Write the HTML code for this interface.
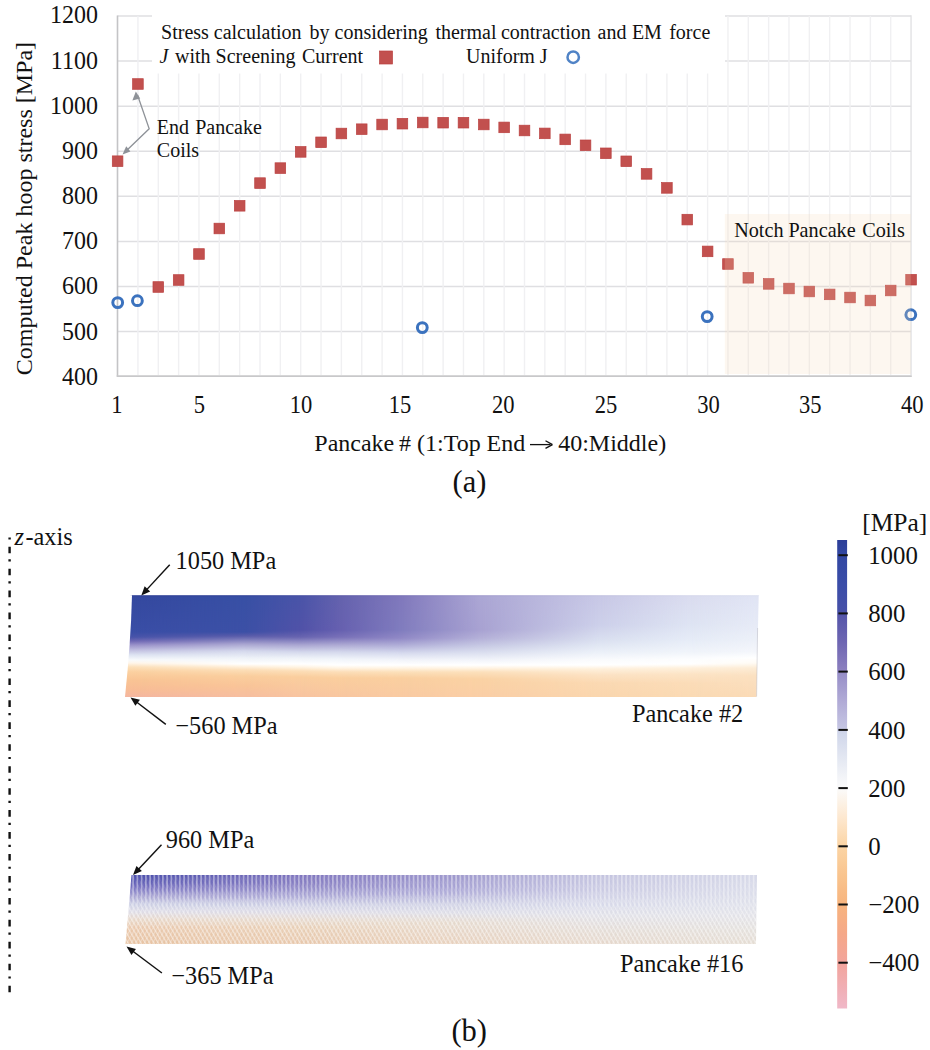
<!DOCTYPE html>
<html><head><meta charset="utf-8"><style>
html,body{margin:0;padding:0;background:#fff;width:930px;height:1050px;overflow:hidden;}
svg{display:block;position:absolute;left:0;top:0;}
</style></head><body>
<svg width="930" height="1050" viewBox="0 0 930 1050">
<defs>
<linearGradient id="s2g0" gradientUnits="userSpaceOnUse" x1="0" y1="595" x2="0" y2="697.5"><stop offset="0.0000" stop-color="#2C3C92"/><stop offset="0.0195" stop-color="#34489F"/><stop offset="0.3610" stop-color="#3A4EA6"/><stop offset="0.4098" stop-color="#4854AA"/><stop offset="0.4488" stop-color="#6E68B4"/><stop offset="0.4878" stop-color="#9A92CA"/><stop offset="0.5366" stop-color="#C0BEE0"/><stop offset="0.5854" stop-color="#DEE4F2"/><stop offset="0.6341" stop-color="#F8FAFC"/><stop offset="0.6634" stop-color="#FFF6EA"/><stop offset="0.7024" stop-color="#FCE0BA"/><stop offset="0.7512" stop-color="#FBD0A0"/><stop offset="0.8293" stop-color="#F9C494"/><stop offset="0.9268" stop-color="#F8BC96"/><stop offset="0.9951" stop-color="#F4B6A0"/></linearGradient>
<linearGradient id="s2g1" gradientUnits="userSpaceOnUse" x1="0" y1="595" x2="0" y2="697.5"><stop offset="0.0000" stop-color="#2E3E94"/><stop offset="0.0195" stop-color="#3850A5"/><stop offset="0.3610" stop-color="#3C50A6"/><stop offset="0.4000" stop-color="#5A5CAA"/><stop offset="0.4780" stop-color="#A8A4D0"/><stop offset="0.5463" stop-color="#D4D8EC"/><stop offset="0.6146" stop-color="#EEF2F8"/><stop offset="0.6732" stop-color="#FFFFFF"/><stop offset="0.6927" stop-color="#FFF4E4"/><stop offset="0.7317" stop-color="#FCDEB8"/><stop offset="0.7902" stop-color="#FACE9E"/><stop offset="0.8878" stop-color="#F9C498"/><stop offset="0.9951" stop-color="#F6BEA0"/></linearGradient>
<linearGradient id="s2m1g" gradientUnits="userSpaceOnUse" x1="132" y1="0" x2="245" y2="0"><stop offset="0" stop-color="#fff" stop-opacity="0"/><stop offset="1" stop-color="#fff" stop-opacity="1"/></linearGradient>
<mask id="s2m1" maskUnits="userSpaceOnUse" x="122.0" y="595" width="639.7" height="102.5"><rect x="122.0" y="595" width="639.7" height="102.5" fill="url(#s2m1g)" /></mask>
<linearGradient id="s2g2" gradientUnits="userSpaceOnUse" x1="0" y1="595" x2="0" y2="697.5"><stop offset="0.0000" stop-color="#424CA0"/><stop offset="0.0195" stop-color="#4A54A8"/><stop offset="0.3415" stop-color="#5052A8"/><stop offset="0.4098" stop-color="#6864B0"/><stop offset="0.4878" stop-color="#AAA6D2"/><stop offset="0.5561" stop-color="#D4D8EC"/><stop offset="0.6146" stop-color="#EEF2F8"/><stop offset="0.6732" stop-color="#FFFFFF"/><stop offset="0.7024" stop-color="#FFF4E4"/><stop offset="0.7415" stop-color="#FCDEB8"/><stop offset="0.8000" stop-color="#FACE9E"/><stop offset="0.9951" stop-color="#F8C4A0"/></linearGradient>
<linearGradient id="s2m2g" gradientUnits="userSpaceOnUse" x1="245" y1="0" x2="300" y2="0"><stop offset="0" stop-color="#fff" stop-opacity="0"/><stop offset="1" stop-color="#fff" stop-opacity="1"/></linearGradient>
<mask id="s2m2" maskUnits="userSpaceOnUse" x="122.0" y="595" width="639.7" height="102.5"><rect x="122.0" y="595" width="639.7" height="102.5" fill="url(#s2m2g)" /></mask>
<linearGradient id="s2g3" gradientUnits="userSpaceOnUse" x1="0" y1="595" x2="0" y2="697.5"><stop offset="0.0000" stop-color="#5A58A6"/><stop offset="0.0195" stop-color="#6462AE"/><stop offset="0.3415" stop-color="#6660B0"/><stop offset="0.4098" stop-color="#7870B8"/><stop offset="0.4878" stop-color="#AEAAD4"/><stop offset="0.5561" stop-color="#D4D8EC"/><stop offset="0.6244" stop-color="#F0F4FA"/><stop offset="0.6829" stop-color="#FFFFFF"/><stop offset="0.7122" stop-color="#FFF4E4"/><stop offset="0.7512" stop-color="#FCDEB8"/><stop offset="0.8098" stop-color="#FACE9E"/><stop offset="0.9951" stop-color="#F8C6A0"/></linearGradient>
<linearGradient id="s2m3g" gradientUnits="userSpaceOnUse" x1="300" y1="0" x2="340" y2="0"><stop offset="0" stop-color="#fff" stop-opacity="0"/><stop offset="1" stop-color="#fff" stop-opacity="1"/></linearGradient>
<mask id="s2m3" maskUnits="userSpaceOnUse" x="122.0" y="595" width="639.7" height="102.5"><rect x="122.0" y="595" width="639.7" height="102.5" fill="url(#s2m3g)" /></mask>
<linearGradient id="s2g4" gradientUnits="userSpaceOnUse" x1="0" y1="595" x2="0" y2="697.5"><stop offset="0.0000" stop-color="#7670B4"/><stop offset="0.0195" stop-color="#8078BC"/><stop offset="0.3415" stop-color="#807CBE"/><stop offset="0.4195" stop-color="#9088C6"/><stop offset="0.4976" stop-color="#B4B2DA"/><stop offset="0.5659" stop-color="#D6DAEE"/><stop offset="0.6341" stop-color="#F2F4FA"/><stop offset="0.6829" stop-color="#FFFFFF"/><stop offset="0.7122" stop-color="#FFF4E4"/><stop offset="0.7512" stop-color="#FCE0BA"/><stop offset="0.8098" stop-color="#FACFA0"/><stop offset="0.9951" stop-color="#F9CAA2"/></linearGradient>
<linearGradient id="s2m4g" gradientUnits="userSpaceOnUse" x1="340" y1="0" x2="400" y2="0"><stop offset="0" stop-color="#fff" stop-opacity="0"/><stop offset="1" stop-color="#fff" stop-opacity="1"/></linearGradient>
<mask id="s2m4" maskUnits="userSpaceOnUse" x="122.0" y="595" width="639.7" height="102.5"><rect x="122.0" y="595" width="639.7" height="102.5" fill="url(#s2m4g)" /></mask>
<linearGradient id="s2g5" gradientUnits="userSpaceOnUse" x1="0" y1="595" x2="0" y2="697.5"><stop offset="0.0000" stop-color="#A09ACC"/><stop offset="0.0195" stop-color="#ABA6D4"/><stop offset="0.3415" stop-color="#A8A2D2"/><stop offset="0.4195" stop-color="#B4B0D8"/><stop offset="0.4976" stop-color="#C8CAE4"/><stop offset="0.5659" stop-color="#DCE0F0"/><stop offset="0.6341" stop-color="#F2F4FA"/><stop offset="0.6829" stop-color="#FFFFFF"/><stop offset="0.7122" stop-color="#FFF4E4"/><stop offset="0.7512" stop-color="#FCE0BC"/><stop offset="0.8195" stop-color="#FAD2A4"/><stop offset="0.9951" stop-color="#FACEA6"/></linearGradient>
<linearGradient id="s2m5g" gradientUnits="userSpaceOnUse" x1="400" y1="0" x2="480" y2="0"><stop offset="0" stop-color="#fff" stop-opacity="0"/><stop offset="1" stop-color="#fff" stop-opacity="1"/></linearGradient>
<mask id="s2m5" maskUnits="userSpaceOnUse" x="122.0" y="595" width="639.7" height="102.5"><rect x="122.0" y="595" width="639.7" height="102.5" fill="url(#s2m5g)" /></mask>
<linearGradient id="s2g6" gradientUnits="userSpaceOnUse" x1="0" y1="595" x2="0" y2="697.5"><stop offset="0.0000" stop-color="#C0C0DE"/><stop offset="0.0195" stop-color="#C8C8E6"/><stop offset="0.2927" stop-color="#CDD0EA"/><stop offset="0.4390" stop-color="#DAE0F0"/><stop offset="0.5561" stop-color="#EBF0F8"/><stop offset="0.6341" stop-color="#FAFBFD"/><stop offset="0.6829" stop-color="#FFFFFF"/><stop offset="0.7220" stop-color="#FEF0DC"/><stop offset="0.7805" stop-color="#FCE2C4"/><stop offset="0.8585" stop-color="#FBD9B2"/><stop offset="0.9951" stop-color="#FAD6AE"/></linearGradient>
<linearGradient id="s2m6g" gradientUnits="userSpaceOnUse" x1="480" y1="0" x2="600" y2="0"><stop offset="0" stop-color="#fff" stop-opacity="0"/><stop offset="1" stop-color="#fff" stop-opacity="1"/></linearGradient>
<mask id="s2m6" maskUnits="userSpaceOnUse" x="122.0" y="595" width="639.7" height="102.5"><rect x="122.0" y="595" width="639.7" height="102.5" fill="url(#s2m6g)" /></mask>
<linearGradient id="s2g7" gradientUnits="userSpaceOnUse" x1="0" y1="595" x2="0" y2="697.5"><stop offset="0.0000" stop-color="#D4D6EA"/><stop offset="0.0195" stop-color="#DADCEF"/><stop offset="0.2927" stop-color="#DEE4F3"/><stop offset="0.4390" stop-color="#E6ECF7"/><stop offset="0.5561" stop-color="#F0F4FA"/><stop offset="0.6244" stop-color="#FCFDFE"/><stop offset="0.6732" stop-color="#FFFFFF"/><stop offset="0.7122" stop-color="#FEF0DC"/><stop offset="0.7707" stop-color="#FCE4C6"/><stop offset="0.8585" stop-color="#FBDCB8"/><stop offset="0.9951" stop-color="#FADAB4"/></linearGradient>
<linearGradient id="s2m7g" gradientUnits="userSpaceOnUse" x1="600" y1="0" x2="690" y2="0"><stop offset="0" stop-color="#fff" stop-opacity="0"/><stop offset="1" stop-color="#fff" stop-opacity="1"/></linearGradient>
<mask id="s2m7" maskUnits="userSpaceOnUse" x="122.0" y="595" width="639.7" height="102.5"><rect x="122.0" y="595" width="639.7" height="102.5" fill="url(#s2m7g)" /></mask>
<linearGradient id="s2g8" gradientUnits="userSpaceOnUse" x1="0" y1="595" x2="0" y2="697.5"><stop offset="0.0000" stop-color="#DADEEE"/><stop offset="0.0195" stop-color="#E0E4F4"/><stop offset="0.2927" stop-color="#E6EAF6"/><stop offset="0.4390" stop-color="#ECF0F8"/><stop offset="0.5561" stop-color="#F4F6FB"/><stop offset="0.6146" stop-color="#FFFFFF"/><stop offset="0.6634" stop-color="#FFFBF4"/><stop offset="0.7122" stop-color="#FCEBD4"/><stop offset="0.7902" stop-color="#FBE0C0"/><stop offset="0.9951" stop-color="#FADAB6"/></linearGradient>
<linearGradient id="s2m8g" gradientUnits="userSpaceOnUse" x1="690" y1="0" x2="756" y2="0"><stop offset="0" stop-color="#fff" stop-opacity="0"/><stop offset="1" stop-color="#fff" stop-opacity="1"/></linearGradient>
<mask id="s2m8" maskUnits="userSpaceOnUse" x="122.0" y="595" width="639.7" height="102.5"><rect x="122.0" y="595" width="639.7" height="102.5" fill="url(#s2m8g)" /></mask>
<linearGradient id="s16g0" gradientUnits="userSpaceOnUse" x1="0" y1="875" x2="0" y2="944.5"><stop offset="0.0000" stop-color="#4A4EAC"/><stop offset="0.0719" stop-color="#5858B2"/><stop offset="0.1871" stop-color="#7A74C2"/><stop offset="0.3022" stop-color="#A6A2D2"/><stop offset="0.4173" stop-color="#CACEE4"/><stop offset="0.5324" stop-color="#DEDCE6"/><stop offset="0.6475" stop-color="#E8D6C6"/><stop offset="0.7626" stop-color="#EAC8AC"/><stop offset="0.9928" stop-color="#E8C4A4"/></linearGradient>
<linearGradient id="s16g1" gradientUnits="userSpaceOnUse" x1="0" y1="875" x2="0" y2="944.5"><stop offset="0.0000" stop-color="#7E74BE"/><stop offset="0.1439" stop-color="#8A82C4"/><stop offset="0.2878" stop-color="#A8A4D4"/><stop offset="0.4317" stop-color="#CCCEE4"/><stop offset="0.5324" stop-color="#DCDAE6"/><stop offset="0.6475" stop-color="#E6D8CC"/><stop offset="0.7626" stop-color="#E8CEB4"/><stop offset="0.9928" stop-color="#E8C8AC"/></linearGradient>
<linearGradient id="s16m1g" gradientUnits="userSpaceOnUse" x1="135" y1="0" x2="300" y2="0"><stop offset="0" stop-color="#fff" stop-opacity="0"/><stop offset="1" stop-color="#fff" stop-opacity="1"/></linearGradient>
<mask id="s16m1" maskUnits="userSpaceOnUse" x="122.5" y="875" width="637.5" height="69.5"><rect x="122.5" y="875" width="637.5" height="69.5" fill="url(#s16m1g)" /></mask>
<linearGradient id="s16g2" gradientUnits="userSpaceOnUse" x1="0" y1="875" x2="0" y2="944.5"><stop offset="0.0000" stop-color="#9C96CC"/><stop offset="0.2158" stop-color="#AAA6D6"/><stop offset="0.4317" stop-color="#CED0E4"/><stop offset="0.5468" stop-color="#DCDCE6"/><stop offset="0.6763" stop-color="#E6DACE"/><stop offset="0.9928" stop-color="#E8D0BC"/></linearGradient>
<linearGradient id="s16m2g" gradientUnits="userSpaceOnUse" x1="300" y1="0" x2="450" y2="0"><stop offset="0" stop-color="#fff" stop-opacity="0"/><stop offset="1" stop-color="#fff" stop-opacity="1"/></linearGradient>
<mask id="s16m2" maskUnits="userSpaceOnUse" x="122.5" y="875" width="637.5" height="69.5"><rect x="122.5" y="875" width="637.5" height="69.5" fill="url(#s16m2g)" /></mask>
<linearGradient id="s16g3" gradientUnits="userSpaceOnUse" x1="0" y1="875" x2="0" y2="944.5"><stop offset="0.0000" stop-color="#C4C4E0"/><stop offset="0.2158" stop-color="#CCCCE4"/><stop offset="0.4317" stop-color="#D8DAEA"/><stop offset="0.5755" stop-color="#E0E0E8"/><stop offset="0.7914" stop-color="#E4DCD6"/><stop offset="0.9928" stop-color="#E6D8CC"/></linearGradient>
<linearGradient id="s16m3g" gradientUnits="userSpaceOnUse" x1="450" y1="0" x2="600" y2="0"><stop offset="0" stop-color="#fff" stop-opacity="0"/><stop offset="1" stop-color="#fff" stop-opacity="1"/></linearGradient>
<mask id="s16m3" maskUnits="userSpaceOnUse" x="122.5" y="875" width="637.5" height="69.5"><rect x="122.5" y="875" width="637.5" height="69.5" fill="url(#s16m3g)" /></mask>
<linearGradient id="s16g4" gradientUnits="userSpaceOnUse" x1="0" y1="875" x2="0" y2="944.5"><stop offset="0.0000" stop-color="#D6D8E8"/><stop offset="0.2158" stop-color="#DADCEA"/><stop offset="0.4317" stop-color="#DEE0EA"/><stop offset="0.5755" stop-color="#E2E2E8"/><stop offset="0.7914" stop-color="#E4E0DC"/><stop offset="0.9928" stop-color="#E4DCD2"/></linearGradient>
<linearGradient id="s16m4g" gradientUnits="userSpaceOnUse" x1="600" y1="0" x2="755" y2="0"><stop offset="0" stop-color="#fff" stop-opacity="0"/><stop offset="1" stop-color="#fff" stop-opacity="1"/></linearGradient>
<mask id="s16m4" maskUnits="userSpaceOnUse" x="122.5" y="875" width="637.5" height="69.5"><rect x="122.5" y="875" width="637.5" height="69.5" fill="url(#s16m4g)" /></mask>
<pattern id="vstr" patternUnits="userSpaceOnUse" x="0.5" y="0" width="4.25" height="10"><rect x="0" y="0" width="1.7" height="10" fill="#fff" fill-opacity="0.42"/></pattern>
<pattern id="dstr" patternUnits="userSpaceOnUse" x="0" y="0" width="4.3" height="7.4" patternTransform="skewX(30)"><rect x="0" y="0" width="1.5" height="7.4" fill="#fff" fill-opacity="0.45"/></pattern>
<pattern id="dstr2" patternUnits="userSpaceOnUse" x="0" y="0" width="4.3" height="7.4" patternTransform="skewX(-30)"><rect x="0" y="0" width="1.2" height="7.4" fill="#fff" fill-opacity="0.3"/></pattern>
<linearGradient id="vfade" gradientUnits="userSpaceOnUse" x1="0" y1="875" x2="0" y2="944"><stop offset="0" stop-color="#fff"/><stop offset="0.35" stop-color="#fff" stop-opacity="0.8"/><stop offset="0.6" stop-color="#fff" stop-opacity="0.2"/><stop offset="1" stop-color="#fff" stop-opacity="0.1"/></linearGradient>
<linearGradient id="dfade" gradientUnits="userSpaceOnUse" x1="0" y1="875" x2="0" y2="944"><stop offset="0" stop-color="#fff" stop-opacity="0.1"/><stop offset="0.3" stop-color="#fff" stop-opacity="0.3"/><stop offset="0.6" stop-color="#fff" stop-opacity="1"/><stop offset="1" stop-color="#fff" stop-opacity="1"/></linearGradient>
<mask id="vmask" maskUnits="userSpaceOnUse" x="120" y="870" width="645" height="80"><rect x="120" y="870" width="645" height="80" fill="url(#vfade)"/></mask>
<mask id="dmask" maskUnits="userSpaceOnUse" x="120" y="870" width="645" height="80"><rect x="120" y="870" width="645" height="80" fill="url(#dfade)"/></mask>
<linearGradient id="cbg" x1="0" y1="0" x2="0" y2="1"><stop offset="0.0014" stop-color="#2C3E98"/><stop offset="0.0324" stop-color="#3247A2"/><stop offset="0.0946" stop-color="#3A4DA8"/><stop offset="0.1505" stop-color="#4650A8"/><stop offset="0.1629" stop-color="#5656AA"/><stop offset="0.2188" stop-color="#6E66B2"/><stop offset="0.2748" stop-color="#8A7EBE"/><stop offset="0.2872" stop-color="#9890C8"/><stop offset="0.3431" stop-color="#B0AAD6"/><stop offset="0.3990" stop-color="#C4C4E2"/><stop offset="0.4115" stop-color="#D0D6EA"/><stop offset="0.4674" stop-color="#E4E8F2"/><stop offset="0.5295" stop-color="#FBFBFB"/><stop offset="0.5917" stop-color="#FDE8D0"/><stop offset="0.6538" stop-color="#FBD4A4"/><stop offset="0.7159" stop-color="#F9C48E"/><stop offset="0.7781" stop-color="#F7B47E"/><stop offset="0.8402" stop-color="#F5A888"/><stop offset="0.9023" stop-color="#F2A49C"/><stop offset="0.9645" stop-color="#F0B0B8"/><stop offset="1.0017" stop-color="#F0B8C8"/></linearGradient>
</defs>
<line x1="117.5" y1="16.0" x2="911.1" y2="16.0" stroke="#DFDFE2" stroke-width="1.45"/>
<line x1="117.5" y1="61.08" x2="911.1" y2="61.08" stroke="#DFDFE2" stroke-width="1.45"/>
<line x1="117.5" y1="106.16" x2="911.1" y2="106.16" stroke="#DFDFE2" stroke-width="1.45"/>
<line x1="117.5" y1="151.24" x2="911.1" y2="151.24" stroke="#DFDFE2" stroke-width="1.45"/>
<line x1="117.5" y1="196.32" x2="911.1" y2="196.32" stroke="#DFDFE2" stroke-width="1.45"/>
<line x1="117.5" y1="241.39999999999998" x2="911.1" y2="241.39999999999998" stroke="#DFDFE2" stroke-width="1.45"/>
<line x1="117.5" y1="286.48" x2="911.1" y2="286.48" stroke="#DFDFE2" stroke-width="1.45"/>
<line x1="117.5" y1="331.56" x2="911.1" y2="331.56" stroke="#DFDFE2" stroke-width="1.45"/>
<line x1="137.94" y1="16" x2="137.94" y2="375" stroke="#F0F0F2" stroke-width="1.4"/>
<line x1="158.29" y1="16" x2="158.29" y2="375" stroke="#F0F0F2" stroke-width="1.4"/>
<line x1="178.63" y1="16" x2="178.63" y2="375" stroke="#F0F0F2" stroke-width="1.4"/>
<line x1="198.98" y1="16" x2="198.98" y2="375" stroke="#F0F0F2" stroke-width="1.4"/>
<line x1="219.32" y1="16" x2="219.32" y2="375" stroke="#F0F0F2" stroke-width="1.4"/>
<line x1="239.67" y1="16" x2="239.67" y2="375" stroke="#F0F0F2" stroke-width="1.4"/>
<line x1="260.01" y1="16" x2="260.01" y2="375" stroke="#F0F0F2" stroke-width="1.4"/>
<line x1="280.36" y1="16" x2="280.36" y2="375" stroke="#F0F0F2" stroke-width="1.4"/>
<line x1="300.70" y1="16" x2="300.70" y2="375" stroke="#F0F0F2" stroke-width="1.4"/>
<line x1="321.05" y1="16" x2="321.05" y2="375" stroke="#F0F0F2" stroke-width="1.4"/>
<line x1="341.39" y1="16" x2="341.39" y2="375" stroke="#F0F0F2" stroke-width="1.4"/>
<line x1="361.74" y1="16" x2="361.74" y2="375" stroke="#F0F0F2" stroke-width="1.4"/>
<line x1="382.09" y1="16" x2="382.09" y2="375" stroke="#F0F0F2" stroke-width="1.4"/>
<line x1="402.43" y1="16" x2="402.43" y2="375" stroke="#F0F0F2" stroke-width="1.4"/>
<line x1="422.77" y1="16" x2="422.77" y2="375" stroke="#F0F0F2" stroke-width="1.4"/>
<line x1="443.12" y1="16" x2="443.12" y2="375" stroke="#F0F0F2" stroke-width="1.4"/>
<line x1="463.47" y1="16" x2="463.47" y2="375" stroke="#F0F0F2" stroke-width="1.4"/>
<line x1="483.81" y1="16" x2="483.81" y2="375" stroke="#F0F0F2" stroke-width="1.4"/>
<line x1="504.15" y1="16" x2="504.15" y2="375" stroke="#F0F0F2" stroke-width="1.4"/>
<line x1="524.50" y1="16" x2="524.50" y2="375" stroke="#F0F0F2" stroke-width="1.4"/>
<line x1="544.85" y1="16" x2="544.85" y2="375" stroke="#F0F0F2" stroke-width="1.4"/>
<line x1="565.19" y1="16" x2="565.19" y2="375" stroke="#F0F0F2" stroke-width="1.4"/>
<line x1="585.53" y1="16" x2="585.53" y2="375" stroke="#F0F0F2" stroke-width="1.4"/>
<line x1="605.88" y1="16" x2="605.88" y2="375" stroke="#F0F0F2" stroke-width="1.4"/>
<line x1="626.23" y1="16" x2="626.23" y2="375" stroke="#F0F0F2" stroke-width="1.4"/>
<line x1="646.57" y1="16" x2="646.57" y2="375" stroke="#F0F0F2" stroke-width="1.4"/>
<line x1="666.91" y1="16" x2="666.91" y2="375" stroke="#F0F0F2" stroke-width="1.4"/>
<line x1="687.26" y1="16" x2="687.26" y2="375" stroke="#F0F0F2" stroke-width="1.4"/>
<line x1="707.61" y1="16" x2="707.61" y2="375" stroke="#F0F0F2" stroke-width="1.4"/>
<line x1="727.95" y1="16" x2="727.95" y2="375" stroke="#F0F0F2" stroke-width="1.4"/>
<line x1="748.29" y1="16" x2="748.29" y2="375" stroke="#F0F0F2" stroke-width="1.4"/>
<line x1="768.64" y1="16" x2="768.64" y2="375" stroke="#F0F0F2" stroke-width="1.4"/>
<line x1="788.99" y1="16" x2="788.99" y2="375" stroke="#F0F0F2" stroke-width="1.4"/>
<line x1="809.33" y1="16" x2="809.33" y2="375" stroke="#F0F0F2" stroke-width="1.4"/>
<line x1="829.67" y1="16" x2="829.67" y2="375" stroke="#F0F0F2" stroke-width="1.4"/>
<line x1="850.02" y1="16" x2="850.02" y2="375" stroke="#F0F0F2" stroke-width="1.4"/>
<line x1="870.37" y1="16" x2="870.37" y2="375" stroke="#F0F0F2" stroke-width="1.4"/>
<line x1="890.71" y1="16" x2="890.71" y2="375" stroke="#F0F0F2" stroke-width="1.4"/>
<line x1="911.05" y1="15.2" x2="911.05" y2="375" stroke="#E0E0E2" stroke-width="1.3"/>
<line x1="117.5" y1="15.5" x2="117.5" y2="376.5" stroke="#C4C4C6" stroke-width="1.6"/>
<line x1="116.7" y1="376.2" x2="911.8" y2="376.2" stroke="#C8C8CA" stroke-width="1.8"/>
<rect x="112.30" y="155.90" width="10.6" height="10.6" fill="#C2504E" stroke="#BA4040" stroke-width="0.7"/>
<rect x="132.64" y="78.70" width="10.6" height="10.6" fill="#C2504E" stroke="#BA4040" stroke-width="0.7"/>
<rect x="152.99" y="281.70" width="10.6" height="10.6" fill="#C2504E" stroke="#BA4040" stroke-width="0.7"/>
<rect x="173.33" y="274.70" width="10.6" height="10.6" fill="#C2504E" stroke="#BA4040" stroke-width="0.7"/>
<rect x="193.68" y="248.70" width="10.6" height="10.6" fill="#C2504E" stroke="#BA4040" stroke-width="0.7"/>
<rect x="214.02" y="223.20" width="10.6" height="10.6" fill="#C2504E" stroke="#BA4040" stroke-width="0.7"/>
<rect x="234.37" y="200.50" width="10.6" height="10.6" fill="#C2504E" stroke="#BA4040" stroke-width="0.7"/>
<rect x="254.71" y="177.80" width="10.6" height="10.6" fill="#C2504E" stroke="#BA4040" stroke-width="0.7"/>
<rect x="275.06" y="162.80" width="10.6" height="10.6" fill="#C2504E" stroke="#BA4040" stroke-width="0.7"/>
<rect x="295.40" y="146.60" width="10.6" height="10.6" fill="#C2504E" stroke="#BA4040" stroke-width="0.7"/>
<rect x="315.75" y="137.00" width="10.6" height="10.6" fill="#C2504E" stroke="#BA4040" stroke-width="0.7"/>
<rect x="336.09" y="128.20" width="10.6" height="10.6" fill="#C2504E" stroke="#BA4040" stroke-width="0.7"/>
<rect x="356.44" y="123.90" width="10.6" height="10.6" fill="#C2504E" stroke="#BA4040" stroke-width="0.7"/>
<rect x="376.79" y="119.20" width="10.6" height="10.6" fill="#C2504E" stroke="#BA4040" stroke-width="0.7"/>
<rect x="397.13" y="118.40" width="10.6" height="10.6" fill="#C2504E" stroke="#BA4040" stroke-width="0.7"/>
<rect x="417.47" y="117.20" width="10.6" height="10.6" fill="#C2504E" stroke="#BA4040" stroke-width="0.7"/>
<rect x="437.82" y="117.40" width="10.6" height="10.6" fill="#C2504E" stroke="#BA4040" stroke-width="0.7"/>
<rect x="458.17" y="117.40" width="10.6" height="10.6" fill="#C2504E" stroke="#BA4040" stroke-width="0.7"/>
<rect x="478.51" y="119.20" width="10.6" height="10.6" fill="#C2504E" stroke="#BA4040" stroke-width="0.7"/>
<rect x="498.85" y="122.10" width="10.6" height="10.6" fill="#C2504E" stroke="#BA4040" stroke-width="0.7"/>
<rect x="519.20" y="125.20" width="10.6" height="10.6" fill="#C2504E" stroke="#BA4040" stroke-width="0.7"/>
<rect x="539.55" y="128.10" width="10.6" height="10.6" fill="#C2504E" stroke="#BA4040" stroke-width="0.7"/>
<rect x="559.89" y="134.10" width="10.6" height="10.6" fill="#C2504E" stroke="#BA4040" stroke-width="0.7"/>
<rect x="580.24" y="140.00" width="10.6" height="10.6" fill="#C2504E" stroke="#BA4040" stroke-width="0.7"/>
<rect x="600.58" y="148.00" width="10.6" height="10.6" fill="#C2504E" stroke="#BA4040" stroke-width="0.7"/>
<rect x="620.93" y="156.00" width="10.6" height="10.6" fill="#C2504E" stroke="#BA4040" stroke-width="0.7"/>
<rect x="641.27" y="168.60" width="10.6" height="10.6" fill="#C2504E" stroke="#BA4040" stroke-width="0.7"/>
<rect x="661.62" y="182.60" width="10.6" height="10.6" fill="#C2504E" stroke="#BA4040" stroke-width="0.7"/>
<rect x="681.96" y="214.30" width="10.6" height="10.6" fill="#C2504E" stroke="#BA4040" stroke-width="0.7"/>
<rect x="702.31" y="246.10" width="10.6" height="10.6" fill="#C2504E" stroke="#BA4040" stroke-width="0.7"/>
<rect x="722.65" y="258.70" width="10.6" height="10.6" fill="#C2504E" stroke="#BA4040" stroke-width="0.7"/>
<rect x="743.00" y="272.50" width="10.6" height="10.6" fill="#C2504E" stroke="#BA4040" stroke-width="0.7"/>
<rect x="763.34" y="278.60" width="10.6" height="10.6" fill="#C2504E" stroke="#BA4040" stroke-width="0.7"/>
<rect x="783.69" y="283.20" width="10.6" height="10.6" fill="#C2504E" stroke="#BA4040" stroke-width="0.7"/>
<rect x="804.03" y="286.20" width="10.6" height="10.6" fill="#C2504E" stroke="#BA4040" stroke-width="0.7"/>
<rect x="824.38" y="289.10" width="10.6" height="10.6" fill="#C2504E" stroke="#BA4040" stroke-width="0.7"/>
<rect x="844.72" y="292.20" width="10.6" height="10.6" fill="#C2504E" stroke="#BA4040" stroke-width="0.7"/>
<rect x="865.07" y="295.20" width="10.6" height="10.6" fill="#C2504E" stroke="#BA4040" stroke-width="0.7"/>
<rect x="885.41" y="285.20" width="10.6" height="10.6" fill="#C2504E" stroke="#BA4040" stroke-width="0.7"/>
<rect x="905.75" y="274.40" width="10.6" height="10.6" fill="#C2504E" stroke="#BA4040" stroke-width="0.7"/>
<circle cx="117.7" cy="302.6" r="4.9" fill="none" stroke="#3B72BE" stroke-width="3"/>
<circle cx="137.4" cy="300.7" r="4.9" fill="none" stroke="#3B72BE" stroke-width="3"/>
<circle cx="422.3" cy="327.6" r="4.9" fill="none" stroke="#3B72BE" stroke-width="3"/>
<circle cx="707.2" cy="316.6" r="4.9" fill="none" stroke="#3B72BE" stroke-width="3"/>
<circle cx="910.8" cy="314.7" r="4.9" fill="none" stroke="#3B72BE" stroke-width="3"/>
<rect x="724.8" y="214" width="186" height="160" fill="rgb(245,215,182)" fill-opacity="0.21"/>
<text x="734.2" y="237" font-family="Liberation Serif, serif" fill="#111" font-size="20.2" >Notch</text>
<text x="788.4" y="237" font-family="Liberation Serif, serif" fill="#111" font-size="20.2" >Pancake</text>
<text x="862.2" y="237" font-family="Liberation Serif, serif" fill="#111" font-size="20.2" >Coils</text>
<rect x="152" y="0" width="573" height="73.5" fill="#FFFFFF"/>
<text x="161.1" y="39.2" font-family="Liberation Serif, serif" fill="#111" font-size="20" >Stress</text>
<text x="213.8" y="39.2" font-family="Liberation Serif, serif" fill="#111" font-size="20" >calculation</text>
<text x="309.5" y="39.2" font-family="Liberation Serif, serif" fill="#111" font-size="20" >by</text>
<text x="334.5" y="39.2" font-family="Liberation Serif, serif" fill="#111" font-size="20" >considering</text>
<text x="435.4" y="39.2" font-family="Liberation Serif, serif" fill="#111" font-size="20" >thermal</text>
<text x="500.9" y="39.2" font-family="Liberation Serif, serif" fill="#111" font-size="20" >contraction</text>
<text x="597.5" y="39.2" font-family="Liberation Serif, serif" fill="#111" font-size="20" >and</text>
<text x="631.9" y="39.2" font-family="Liberation Serif, serif" fill="#111" font-size="20" >EM</text>
<text x="669.2" y="39.2" font-family="Liberation Serif, serif" fill="#111" font-size="20" >force</text>
<text x="159.5" y="63.1" font-family="Liberation Serif, serif" fill="#111" font-size="20" font-style="italic">J</text>
<text x="175.0" y="63.1" font-family="Liberation Serif, serif" fill="#111" font-size="20" >with</text>
<text x="215.6" y="63.1" font-family="Liberation Serif, serif" fill="#111" font-size="20" >Screening</text>
<text x="302.0" y="63.1" font-family="Liberation Serif, serif" fill="#111" font-size="20" >Current</text>
<text x="466.0" y="63.1" font-family="Liberation Serif, serif" fill="#111" font-size="20" >Uniform</text>
<text x="539.7" y="63.1" font-family="Liberation Serif, serif" fill="#111" font-size="20" >J</text>
<rect x="379.5" y="51" width="13" height="13" fill="#C2504E" stroke="#BA4040" stroke-width="0.7"/>
<circle cx="573.2" cy="57.2" r="5.7" fill="none" stroke="#5083C6" stroke-width="2.5"/>
<path d="M137.5 95 L149.2 128.7 L124.5 152.5" fill="none" stroke="#8E9298" stroke-width="1.3"/>
<path d="M135.8 91.5 L132.4 100.5 L140.2 98.6 Z" fill="#8E9298"/>
<path d="M122.5 154.6 L126.2 146.3 L130.4 151.6 Z" fill="#8E9298"/>
<text x="156.8" y="133.6" font-family="Liberation Serif, serif" fill="#111" font-size="20" >End</text>
<text x="195.2" y="133.6" font-family="Liberation Serif, serif" fill="#111" font-size="20" >Pancake</text>
<text x="156.8" y="156.6" font-family="Liberation Serif, serif" fill="#111" font-size="20" >Coils</text>
<text transform="translate(97.9,23.4) scale(1,1.08)" font-family="Liberation Serif, serif" fill="#111" font-size="24" text-anchor="end">1200</text>
<text transform="translate(97.9,68.6) scale(1,1.08)" font-family="Liberation Serif, serif" fill="#111" font-size="24" text-anchor="end">1100</text>
<text transform="translate(97.9,113.7) scale(1,1.08)" font-family="Liberation Serif, serif" fill="#111" font-size="24" text-anchor="end">1000</text>
<text transform="translate(97.9,158.9) scale(1,1.08)" font-family="Liberation Serif, serif" fill="#111" font-size="24" text-anchor="end">900</text>
<text transform="translate(97.9,204.0) scale(1,1.08)" font-family="Liberation Serif, serif" fill="#111" font-size="24" text-anchor="end">800</text>
<text transform="translate(97.9,249.2) scale(1,1.08)" font-family="Liberation Serif, serif" fill="#111" font-size="24" text-anchor="end">700</text>
<text transform="translate(97.9,294.4) scale(1,1.08)" font-family="Liberation Serif, serif" fill="#111" font-size="24" text-anchor="end">600</text>
<text transform="translate(97.9,339.5) scale(1,1.08)" font-family="Liberation Serif, serif" fill="#111" font-size="24" text-anchor="end">500</text>
<text transform="translate(97.9,384.7) scale(1,1.08)" font-family="Liberation Serif, serif" fill="#111" font-size="24" text-anchor="end">400</text>
<text transform="translate(116.8,413.0) scale(0.94,1.08)" font-family="Liberation Serif, serif" fill="#111" font-size="24" text-anchor="middle">1</text>
<text transform="translate(199.3,413.0) scale(0.94,1.08)" font-family="Liberation Serif, serif" fill="#111" font-size="24" text-anchor="middle">5</text>
<text transform="translate(301.1,413.0) scale(0.94,1.08)" font-family="Liberation Serif, serif" fill="#111" font-size="24" text-anchor="middle">10</text>
<text transform="translate(399.9,413.0) scale(0.94,1.08)" font-family="Liberation Serif, serif" fill="#111" font-size="24" text-anchor="middle">15</text>
<text transform="translate(503.2,413.0) scale(0.94,1.08)" font-family="Liberation Serif, serif" fill="#111" font-size="24" text-anchor="middle">20</text>
<text transform="translate(605.9,413.0) scale(0.94,1.08)" font-family="Liberation Serif, serif" fill="#111" font-size="24" text-anchor="middle">25</text>
<text transform="translate(708.4,413.0) scale(0.94,1.08)" font-family="Liberation Serif, serif" fill="#111" font-size="24" text-anchor="middle">30</text>
<text transform="translate(810.3,413.0) scale(0.94,1.08)" font-family="Liberation Serif, serif" fill="#111" font-size="24" text-anchor="middle">35</text>
<text transform="translate(912.3,413.0) scale(0.94,1.08)" font-family="Liberation Serif, serif" fill="#111" font-size="24" text-anchor="middle">40</text>
<text transform="translate(31.5,208.6) rotate(-90)" font-family="Liberation Serif, serif" fill="#111" font-size="24" text-anchor="middle">Computed Peak hoop stress [MPa]</text>
<text x="314.3" y="450.5" font-family="Liberation Serif, serif" fill="#111" font-size="24" >Pancake</text>
<text x="399" y="450.5" font-family="Liberation Serif, serif" fill="#111" font-size="24" >#</text>
<text x="417" y="450.5" font-family="Liberation Serif, serif" fill="#111" font-size="24" >(1:Top</text>
<text x="486.5" y="450.5" font-family="Liberation Serif, serif" fill="#111" font-size="24" >End</text>
<text x="558.2" y="450.5" font-family="Liberation Serif, serif" fill="#111" font-size="24" >40:Middle)</text>
<path d="M530 444.6 H550.5" stroke="#111" stroke-width="1.3"/>
<path d="M552.5 444.6 L545.5 440.8 M552.5 444.6 L545.5 448.4" stroke="#111" stroke-width="1.3" fill="none"/>
<text x="469.5" y="491.5" font-family="Liberation Serif, serif" fill="#111" font-size="30.5" text-anchor="middle">(a)</text>
<line x1="9.6" y1="537.4" x2="9.6" y2="993.6" stroke="#111" stroke-width="2.4" stroke-dasharray="2.2 7.1 6.6 6.05"/>
<text x="14.6" y="544.6" font-family="Liberation Serif, serif" fill="#111" font-size="24.3" font-style="italic">z</text>
<text x="25.4" y="544.6" font-family="Liberation Serif, serif" fill="#111" font-size="24.3" >-axis</text>
<rect x="122.0" y="595" width="639.7" height="102.5" fill="url(#s2g0)"/>
<rect x="132" y="595" width="629.7" height="102.5" fill="url(#s2g1)" mask="url(#s2m1)"/>
<rect x="245" y="595" width="516.7" height="102.5" fill="url(#s2g2)" mask="url(#s2m2)"/>
<rect x="300" y="595" width="461.70000000000005" height="102.5" fill="url(#s2g3)" mask="url(#s2m3)"/>
<rect x="340" y="595" width="421.70000000000005" height="102.5" fill="url(#s2g4)" mask="url(#s2m4)"/>
<rect x="400" y="595" width="361.70000000000005" height="102.5" fill="url(#s2g5)" mask="url(#s2m5)"/>
<rect x="480" y="595" width="281.70000000000005" height="102.5" fill="url(#s2g6)" mask="url(#s2m6)"/>
<rect x="600" y="595" width="161.70000000000005" height="102.5" fill="url(#s2g7)" mask="url(#s2m7)"/>
<rect x="690" y="595" width="71.70000000000005" height="102.5" fill="url(#s2g8)" mask="url(#s2m8)"/>
<polygon points="121.0,698.5 125.0,697.0 127.6,670.0 129.6,645.0 131.1,620.0 132.0,595.2 121.0,594" fill="#fff"/>
<polygon points="758.7,595.2 762.7,594 762.7,698.5 756.5,697.0" fill="#fff"/>
<rect x="121.0" y="593" width="641.7" height="2.2000000000000455" fill="#fff"/>
<rect x="121.0" y="697.0" width="641.7" height="2.5" fill="#fff"/>
<line x1="757.6" y1="628" x2="756.6" y2="696.5" stroke="#B8B8C0" stroke-width="0.8" stroke-opacity="0.6"/>
<rect x="122.5" y="875" width="637.5" height="69.5" fill="url(#s16g0)"/>
<rect x="135" y="875" width="625.0" height="69.5" fill="url(#s16g1)" mask="url(#s16m1)"/>
<rect x="300" y="875" width="460.0" height="69.5" fill="url(#s16g2)" mask="url(#s16m2)"/>
<rect x="450" y="875" width="310.0" height="69.5" fill="url(#s16g3)" mask="url(#s16m3)"/>
<rect x="600" y="875" width="160.0" height="69.5" fill="url(#s16g4)" mask="url(#s16m4)"/>
<g><rect x="120" y="875" width="645" height="69.5" fill="url(#vstr)" mask="url(#vmask)"/><rect x="120" y="875" width="645" height="69.5" fill="url(#dstr)" mask="url(#dmask)"/><rect x="120" y="875" width="645" height="69.5" fill="url(#dstr2)" mask="url(#dmask)"/></g>
<polygon points="121.5,945.5 125.5,944.0 131.5,875.0 121.5,874" fill="#fff"/>
<polygon points="757.0,875.0 761.0,874 761.0,945.5 756.0,944.0" fill="#fff"/>
<rect x="121.5" y="873" width="639.5" height="2.0" fill="#fff"/>
<rect x="121.5" y="944.0" width="639.5" height="2.5" fill="#fff"/>
<line x1="169.7" y1="564.7" x2="146.72" y2="589.62" stroke="#111" stroke-width="1.45"/>
<polygon points="141.3,595.5 144.64,586.34 150.16,591.43" fill="#111"/>
<line x1="165.8" y1="724.3" x2="136.86" y2="702.25" stroke="#111" stroke-width="1.45"/>
<polygon points="130.5,697.4 139.93,699.87 135.39,705.84" fill="#111"/>
<line x1="161.5" y1="844.8" x2="138.49" y2="869.18" stroke="#111" stroke-width="1.45"/>
<polygon points="133,875 136.45,865.88 141.90,871.03" fill="#111"/>
<line x1="161.9" y1="973" x2="132.90" y2="951.29" stroke="#111" stroke-width="1.45"/>
<polygon points="126.5,946.5 135.95,948.89 131.46,954.90" fill="#111"/>
<text x="175.6" y="569.4" font-family="Liberation Serif, serif" fill="#111" font-size="24.3" >1050 MPa</text>
<text x="175.4" y="734.4" font-family="Liberation Serif, serif" fill="#111" font-size="24.3" >&#8722;560 MPa</text>
<text x="165.8" y="848.4" font-family="Liberation Serif, serif" fill="#111" font-size="24.3" >960 MPa</text>
<text x="171.4" y="983.6" font-family="Liberation Serif, serif" fill="#111" font-size="24.3" >&#8722;365 MPa</text>
<text x="631.9" y="722.3" font-family="Liberation Serif, serif" fill="#111" font-size="24.3" >Pancake #2</text>
<text x="619.9" y="972.1" font-family="Liberation Serif, serif" fill="#111" font-size="24.3" >Pancake #16</text>
<text x="469.2" y="1041" font-family="Liberation Serif, serif" fill="#111" font-size="30.5" text-anchor="middle">(b)</text>
<rect x="837.2" y="540" width="9.9" height="468.5" fill="url(#cbg)"/>
<line x1="838.4" y1="555.2" x2="847.8" y2="555.2" stroke="#111" stroke-width="2"/>
<text x="868.2" y="563.8" font-family="Liberation Serif, serif" fill="#111" font-size="24.8" >1000</text>
<line x1="838.4" y1="613.4" x2="847.8" y2="613.4" stroke="#111" stroke-width="2"/>
<text x="868.2" y="622.0" font-family="Liberation Serif, serif" fill="#111" font-size="24.8" >800</text>
<line x1="838.4" y1="671.6" x2="847.8" y2="671.6" stroke="#111" stroke-width="2"/>
<text x="868.2" y="680.2" font-family="Liberation Serif, serif" fill="#111" font-size="24.8" >600</text>
<line x1="838.4" y1="729.9" x2="847.8" y2="729.9" stroke="#111" stroke-width="2"/>
<text x="868.2" y="738.5" font-family="Liberation Serif, serif" fill="#111" font-size="24.8" >400</text>
<line x1="838.4" y1="788.1" x2="847.8" y2="788.1" stroke="#111" stroke-width="2"/>
<text x="868.2" y="796.7" font-family="Liberation Serif, serif" fill="#111" font-size="24.8" >200</text>
<line x1="838.4" y1="846.3" x2="847.8" y2="846.3" stroke="#111" stroke-width="2"/>
<text x="868.2" y="854.9" font-family="Liberation Serif, serif" fill="#111" font-size="24.8" >0</text>
<line x1="838.4" y1="904.5" x2="847.8" y2="904.5" stroke="#111" stroke-width="2"/>
<text x="868.2" y="913.1" font-family="Liberation Serif, serif" fill="#111" font-size="24.8" >&#8722;200</text>
<line x1="838.4" y1="962.7" x2="847.8" y2="962.7" stroke="#111" stroke-width="2"/>
<text x="868.2" y="971.3" font-family="Liberation Serif, serif" fill="#111" font-size="24.8" >&#8722;400</text>
<text x="862.2" y="531" font-family="Liberation Serif, serif" fill="#111" font-size="25.5" >[MPa]</text>
</svg>
</body></html>
